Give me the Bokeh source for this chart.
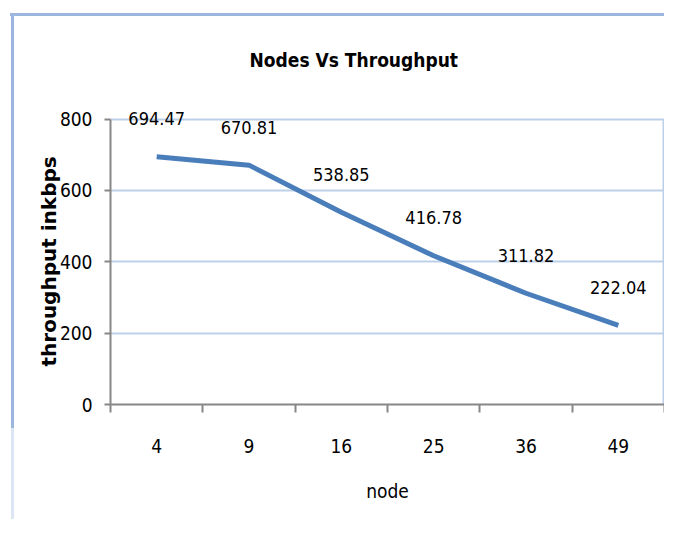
from bokeh.plotting import figure
from bokeh.models import (Range1d, FixedTicker, LabelSet, ColumnDataSource, Title)
from bokeh.core.properties import value
from bokeh.embed import file_html
from bokeh.resources import INLINE

# ---- data ----
nodes = ["4", "9", "16", "25", "36", "49"]
throughput = [694.47, 670.81, 538.85, 416.78, 311.82, 222.04]
y_ticks = [0, 200, 400, 600, 800]

title_text = "Nodes Vs Throughput"
x_label = "node"
y_label = "throughput inkbps"

NARROW = "DejaVu Sans Condensed"
LINE_COLOR = "#4a7ebb"
GRID_COLOR = "#bdd0ea"
AXIS_COLOR = "#878787"

xs = [i + 0.5 for i in range(len(nodes))]
source = ColumnDataSource(dict(
    x=xs, y=throughput, lab=[f"{v:.2f}" for v in throughput]))

y_top = y_ticks[-1]
p = figure(
    frame_width=554, frame_height=314,
    min_border_left=110, min_border_right=0,
    min_border_top=90, min_border_bottom=115,
    x_range=Range1d(0, len(nodes)), y_range=Range1d(0, y_top * 1.1),
    output_backend="svg", toolbar_location=None, title=None,
)

p.add_layout(Title(text=title_text, align="left", offset=139,
                   text_font=NARROW, text_font_size="19px",
                   text_font_style="bold", text_color="black",
                   standoff=40), "above")

p.border_fill_alpha = 0
p.background_fill_color = "white"
p.outline_line_color = None
p.styles = {
    "background": (
        "linear-gradient(#9bb7e0,#9bb7e0) 10px 13px / 660px 3px no-repeat, "
        "linear-gradient(#9bb7e0,#9bb7e0) 11px 13px / 3px 415px no-repeat, "
        "linear-gradient(#dbe5f4,#dbe5f4) 11px 428px / 3px 100px no-repeat"
    )
}

# grid
p.xgrid.grid_line_color = None
p.ygrid.ticker = FixedTicker(ticks=y_ticks)
p.ygrid.grid_line_color = GRID_COLOR
p.ygrid.grid_line_width = 2

# right border of the plot area (from 0 up to the top tick)
p.segment(x0=[len(nodes)], y0=[0], x1=[len(nodes)], y1=[y_top],
          line_color=GRID_COLOR, line_width=4)

# line
p.line("x", "y", source=source, line_color=LINE_COLOR, line_width=5,
       line_join="round")

# data labels
labels = LabelSet(x="x", y="y", text="lab", source=source,
                  text_align="center", text_baseline="middle", y_offset=38,
                  text_font=value(NARROW), text_font_size=value("18px"),
                  text_color="black")
p.add_layout(labels)

# x axis
xa = p.xaxis[0]
xa.ticker = FixedTicker(ticks=xs, minor_ticks=list(range(len(nodes) + 1)))
xa.major_label_overrides = {x: n for x, n in zip(xs, nodes)}
xa.major_tick_line_color = None
xa.major_tick_out = 0
xa.major_tick_in = 0
xa.minor_tick_line_color = AXIS_COLOR
xa.minor_tick_line_width = 2
xa.minor_tick_out = 8
xa.minor_tick_in = 0
xa.axis_line_color = AXIS_COLOR
xa.axis_line_width = 2
xa.major_label_text_font = NARROW
xa.major_label_text_font_size = "19px"
xa.major_label_text_color = "black"
xa.major_label_standoff = 26
xa.axis_label = x_label
xa.axis_label_text_font = NARROW
xa.axis_label_text_font_size = "19px"
xa.axis_label_text_font_style = "normal"
xa.axis_label_text_color = "black"
xa.axis_label_standoff = 24

# y axis
ya = p.yaxis[0]
ya.ticker = FixedTicker(ticks=y_ticks)
ya.bounds = (0, y_top)
ya.major_tick_line_color = AXIS_COLOR
ya.major_tick_line_width = 2
ya.major_tick_out = 6
ya.major_tick_in = 0
ya.minor_tick_line_color = None
ya.axis_line_color = AXIS_COLOR
ya.axis_line_width = 2
ya.major_label_text_font = NARROW
ya.major_label_text_font_size = "19px"
ya.major_label_text_color = "black"
ya.major_label_standoff = 12
ya.axis_label = y_label + "\u00a0" * 4
ya.axis_label_text_font = "DejaVu Sans"
ya.axis_label_text_font_size = "20px"
ya.axis_label_text_font_style = "bold"
ya.axis_label_text_color = "black"
ya.axis_label_standoff = -4

open("out.html", "w").write(file_html(p, INLINE))
